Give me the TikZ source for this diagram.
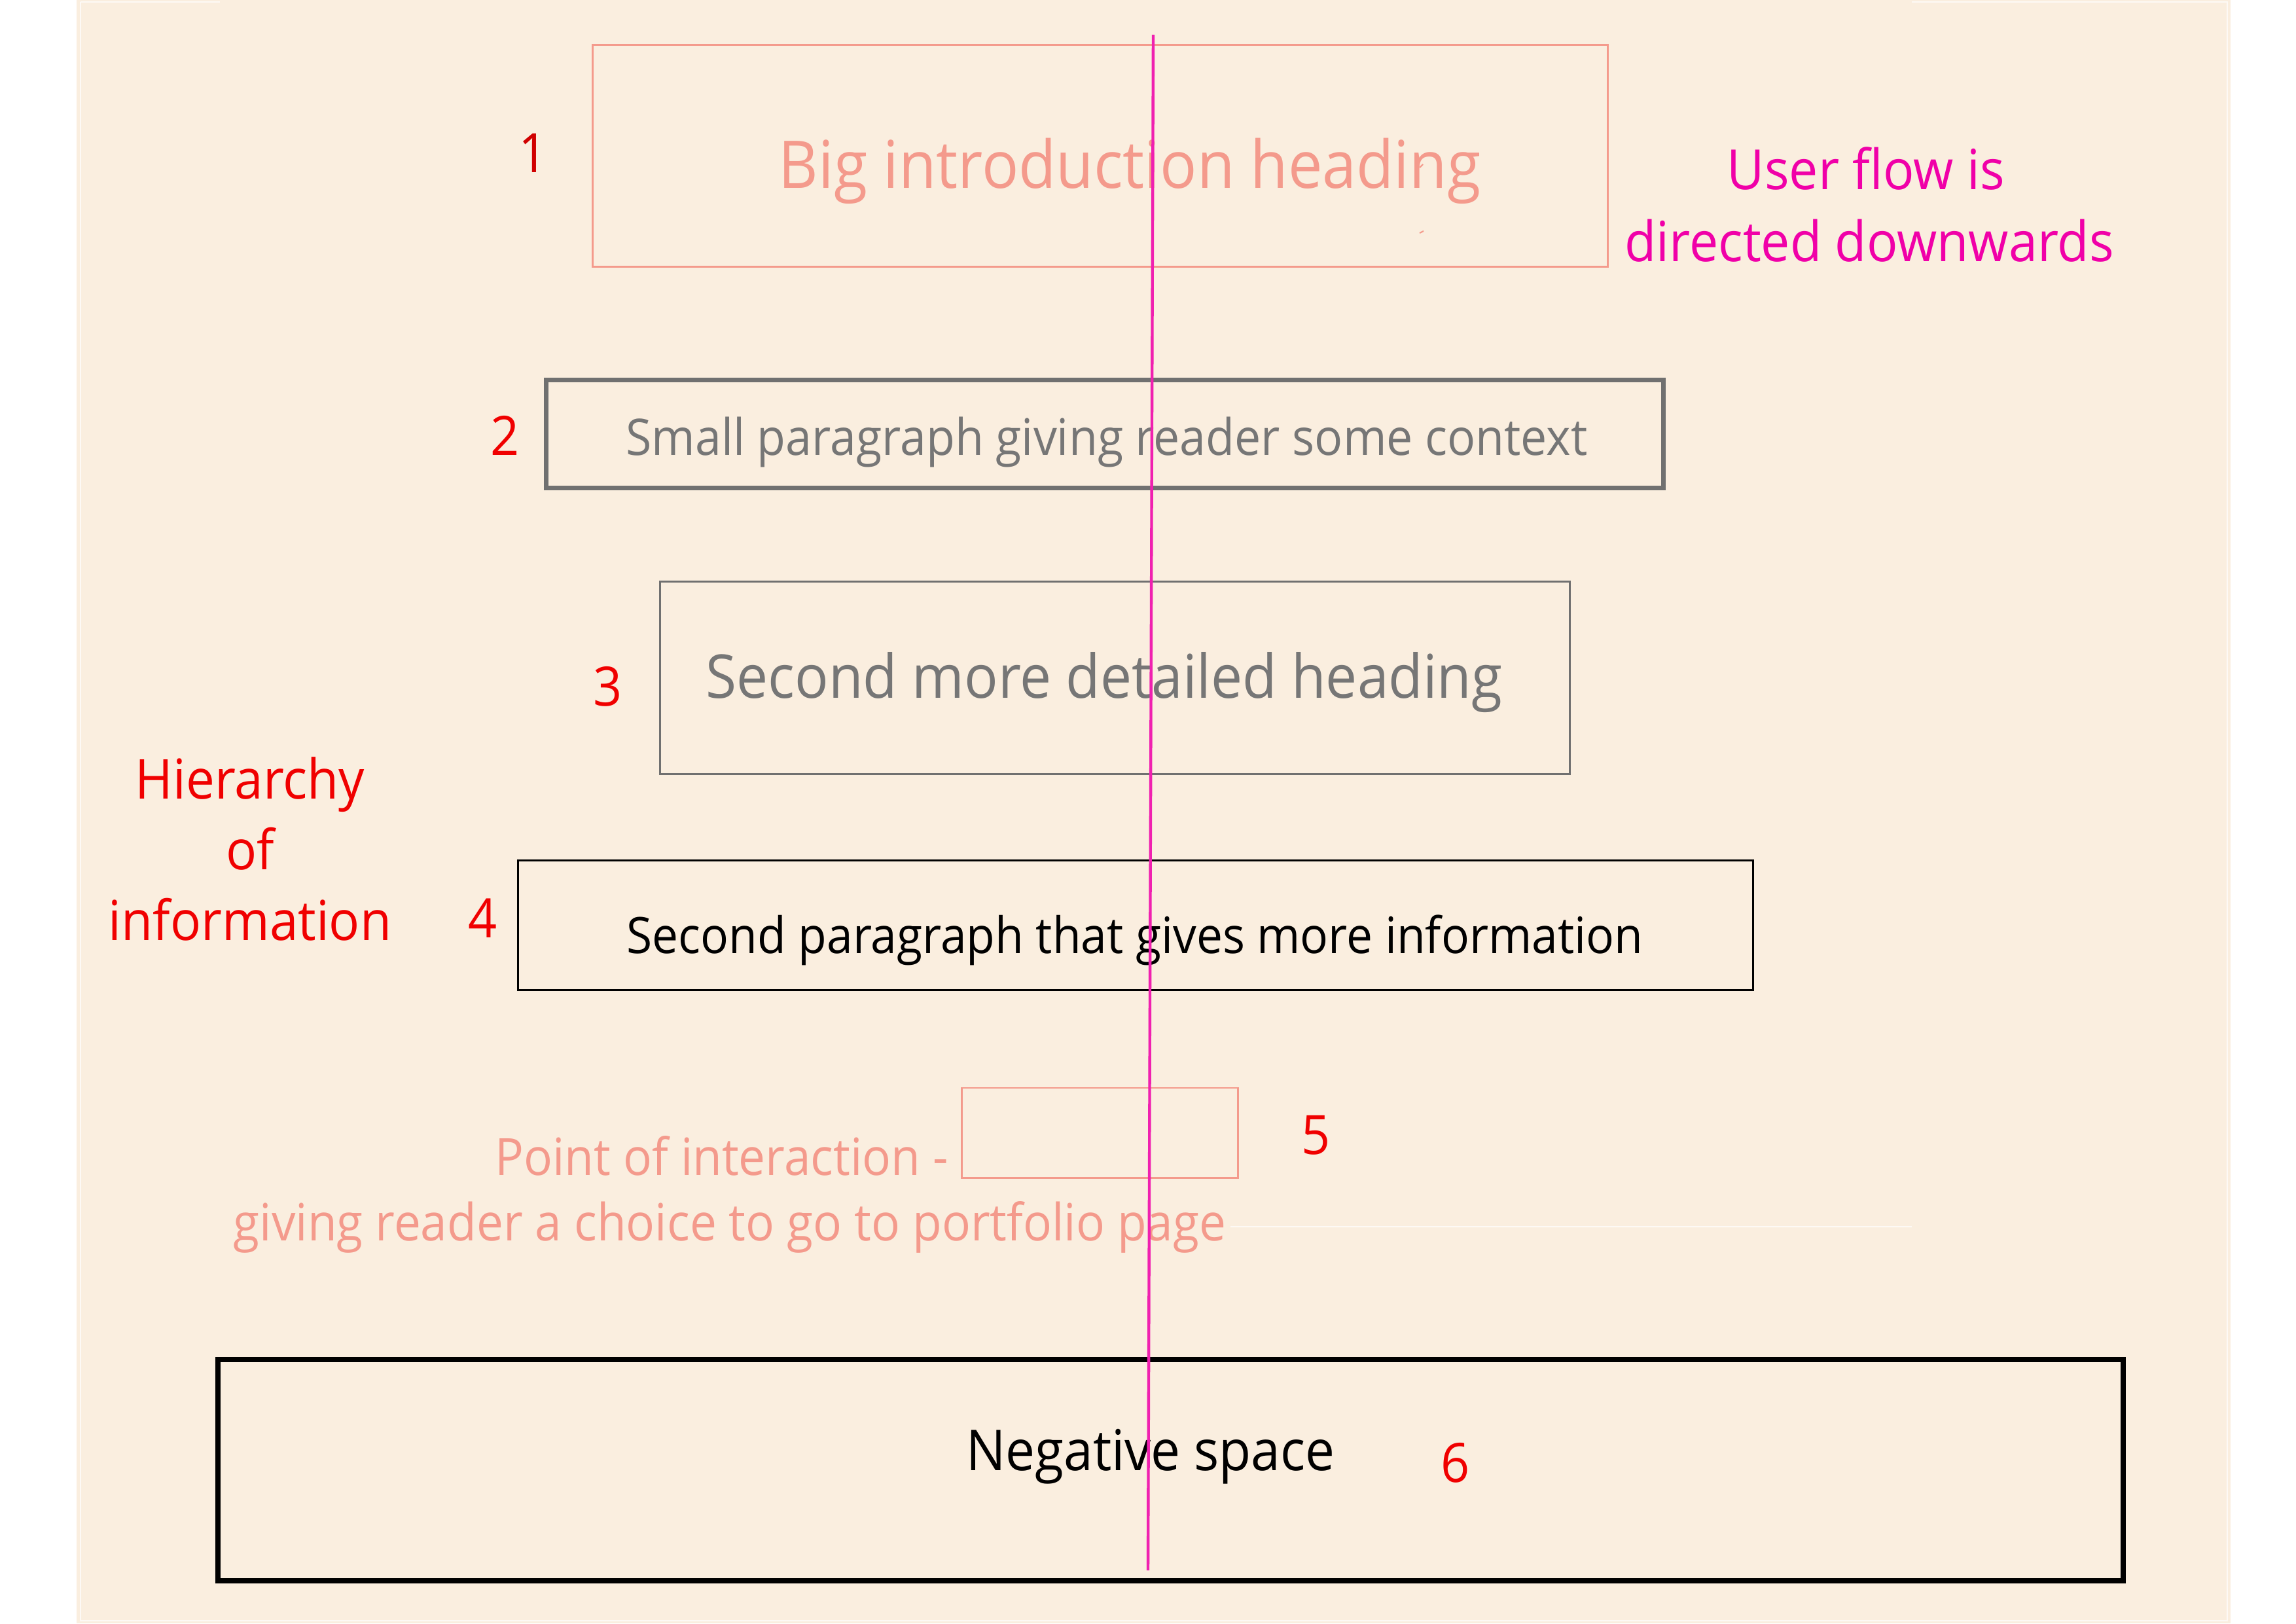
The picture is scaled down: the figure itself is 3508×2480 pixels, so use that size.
\documentclass[tikz,border=0pt]{standalone}
\usepackage{fontspec}
\setmainfont[FakeStretch=0.93]{Open Sans}
\definecolor{cream}{RGB}{250,238,223}
\definecolor{salmon}{RGB}{244,154,140}
\definecolor{greyline}{RGB}{112,112,112}
\definecolor{greytext}{RGB}{118,118,118}
\definecolor{darkred}{RGB}{208,0,0}
\definecolor{brightred}{RGB}{240,0,0}
\definecolor{magline}{RGB}{240,32,176}
\definecolor{magtext}{RGB}{240,0,168}
\newcommand{\fs}[2]{\fontsize{#1pt}{#2pt}\selectfont}
\tikzset{
  boxstyle/.style={draw, rectangle, inner sep=0pt, anchor=center},
  txt/.style={anchor=base, inner sep=0pt},
  numlabel/.style={txt, text=brightred, font=\fs{23.6}{28}},
  faint/.style={draw=white, opacity=0.7, line width=0.4pt},
}
\begin{document}
\begin{tikzpicture}[x=0.01cm,y=-0.01cm]
\useasboundingbox (0,0) rectangle (3508,2480);
\fill[white] (0,0) rectangle (3508,2480);
\fill[cream] (117,0) rectangle (3408,2480);
% faint edge lines
\draw[faint] (123,3) -- (123,2476) -- (3403,2476) -- (3403,3) -- (2921,3);
\draw[faint] (123,3) -- (336,3);
\draw[faint] (1880,1874) -- (2921,1874);

% boxes
\node[boxstyle, draw=salmon, line width=0.85pt, minimum width=15.50cm, minimum height=3.38cm] (box1) at (1681,238) {};
\node[boxstyle, draw=greyline, line width=2pt, minimum width=17.06cm, minimum height=1.64cm] (box2) at (1688,663) {};
\node[boxstyle, draw=greyline, line width=0.85pt, minimum width=13.89cm, minimum height=2.93cm] (box3) at (1703.5,1035.5) {};
\node[boxstyle, draw=black, line width=0.85pt, minimum width=18.86cm, minimum height=1.97cm] (box4) at (1735,1413.5) {};
\node[boxstyle, draw=salmon, line width=0.85pt, minimum width=4.21cm, minimum height=1.37cm] (box5) at (1680.5,1730.5) {};
\node[boxstyle, draw=black, line width=2.3pt, minimum width=29.09cm, minimum height=3.38cm] (box6) at (1788.5,2246) {};

% texts
\node[txt, text=salmon, font=\fs{28.6}{33}] (t1) at (1726,287) {Big introduction heading};
\node[numlabel, text=darkred] (n1) at (815,263) {1};
\node[txt, text=magtext, font=\fs{24.1}{31.3}, align=center, anchor=north, text depth=0pt] (flowtxt) at (2856,224) {User flow is\hspace*{3pt}\\directed downwards};
\node[numlabel] (n2) at (772,695) {2};
\node[txt, text=greytext, font=\fs{21.9}{26}] (t2) at (1691,695) {Small paragraph giving reader some context};
\node[numlabel] (n3) at (929,1078) {3};
\node[txt, text=greytext, font=\fs{26.2}{31}] (t3) at (1687,1066) {Second more detailed heading};
\node[txt, text=brightred, font=\fs{23.9}{30.7}, align=center, anchor=north] (hier) at (382,1156) {Hierarchy\\of\hspace*{5pt}\\information};
\node[numlabel] (n4) at (738,1432) {4};
\node[txt, text=black, font=\fs{21.8}{28}] (t4) at (1734,1456) {Second paragraph that gives more information};
\node[txt, text=salmon, font=\fs{22.3}{28.5}, align=center, anchor=north] (t5) at (1115,1735) {Point of interaction -\hspace*{7pt}\\giving reader a choice to go to portfolio page};
\node[numlabel] (n5) at (2011,1763) {5};
\node[txt, text=black, font=\fs{24.5}{30}] (t6) at (1758,2246) {Negative space};
\node[numlabel] (n6) at (2224,2264) {6};

% tiny marks
\draw[salmon, line width=0.6pt] (2169,356) -- (2175,353);
\draw[salmon, line width=0.6pt] (2169,256) -- (2174,251);

% user flow line
\coordinate (flowtop) at (1762,53);
\coordinate (flowbot) at (1754,2399);
\draw[magline, line width=1.25pt] (flowtop) -- (flowbot);
\end{tikzpicture}
\end{document}
